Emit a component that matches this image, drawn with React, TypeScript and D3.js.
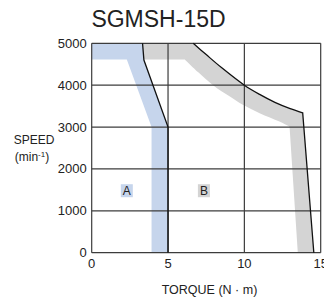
import * as d3 from 'd3';

// continuous duty zone (A): boundary line and the inner edge of its band
const contLineTorque = [3.33, 3.42, 5, 5];
const contLineSpeed = [5000, 4600, 3000, 0];
const contInnerTorque = [3.92, 3.92, 2.3, 0];
const contInnerSpeed = [0, 3000, 4616, 4616];

// intermittent duty zone (B): curved boundary, then the steep drop to zero speed
const intCurveTorque = [6.65, 7.5, 8.5, 10, 11, 12, 13, 13.82];
const intCurveSpeed = [5000, 4730, 4420, 4000, 3780, 3590, 3440, 3340];
const intDropTorque = [14.55];
const intDropSpeed = [0];
// inner edge of the B band (left to right), then its bottom end
const intInnerTorque = [6.1, 7.0, 7.95, 9, 9.9, 11, 12.3, 12.96];
const intInnerSpeed = [4616, 4300, 4000, 3740, 3530, 3330, 3130, 3010];
const intInnerBottomTorque = [13.5];
const intInnerBottomSpeed = [0];

const xTicks = [0, 5, 10, 15];
const yTicks = [0, 1000, 2000, 3000, 4000, 5000];

const zoneLabels = ['A', 'B'];
const zoneTorque = [2.3, 7.35];
const zoneSpeed = [1480, 1480];

const BLUE = '#c6d5ec';
const GRAY = '#d4d4d4';
const FONT = '"Liberation Sans", Arial, Helvetica, sans-serif';

type P = [number, number];
const pts = (xs: number[], ys: number[]) => xs.map((x, i) => [x, ys[i]] as P);

export default function App() {
  const width = 324;
  const height = 300;

  const x = d3.scaleLinear().domain([0, 15]).range([91.7, 320.7]);
  const y = d3.scaleLinear().domain([0, 5000]).range([252.7, 43.3]);

  const straight = d3.line<P>().x((d) => x(d[0])).y((d) => y(d[1]));
  const smooth = d3
    .line<P>()
    .x((d) => x(d[0]))
    .y((d) => y(d[1]))
    .curve(d3.curveCatmullRom.alpha(0.5));
  // continue a path (drop the leading M)
  const cont = (s: string | null) => (s ?? '').replace(/^M/, 'L');
  const lineTo = (ps: P[]) => ps.map((p) => `L${x(p[0])},${y(p[1])}`).join('');

  const contLine = pts(contLineTorque, contLineSpeed);
  const intCurve = pts(intCurveTorque, intCurveSpeed);
  const intDrop = pts(intDropTorque, intDropSpeed);
  const intInner = pts(intInnerTorque, intInnerSpeed);
  const intInnerBottom = pts(intInnerBottomTorque, intInnerBottomSpeed);

  const contBand =
    straight([[0, 5000], ...contLine, ...pts(contInnerTorque, contInnerSpeed)]) + 'Z';

  const intBoundary = smooth(intCurve) + lineTo(intDrop);
  const intBand =
    `M${x(contLineTorque[0])},${y(5000)}` +
    cont(smooth(intCurve)) +
    lineTo(intDrop) +
    lineTo(intInnerBottom) +
    cont(smooth([...intInner].reverse())) +
    lineTo([[contLineTorque[1], 4616]]) +
    'Z';

  const [x0, x1] = x.range();
  const [y0, y1] = y.range();

  return (
    <svg
      width={width}
      height={height}
      style={{ position: 'absolute', left: 0, top: 0, background: '#fff' }}
      fontFamily={FONT}
    >
      <text x={158.5} y={27} fontSize={23} textAnchor="middle" fill="#222">
        SGMSH-15D
      </text>

      <path d={contBand} fill={BLUE} />
      <path d={intBand} fill={GRAY} />

      {/* grid */}
      {xTicks.map((t) => (
        <line key={'gx' + t} x1={x(t)} x2={x(t)} y1={y1} y2={y0} stroke="#3c3c3c" strokeWidth={1.2} />
      ))}
      {yTicks.map((t) => (
        <line key={'gy' + t} x1={x0} x2={x1} y1={y(t)} y2={y(t)} stroke="#3c3c3c" strokeWidth={1.2} />
      ))}

      <path d={straight(contLine) ?? ''} fill="none" stroke="#111" strokeWidth={1.3} />
      <path d={intBoundary} fill="none" stroke="#111" strokeWidth={1.3} />

      {/* tick labels */}
      {yTicks.map((t) => (
        <text key={'ty' + t} x={x0 - 5} y={y(t)} dy="0.35em" fontSize={13} textAnchor="end" fill="#222">
          {t}
        </text>
      ))}
      {xTicks.map((t) => (
        <text key={'tx' + t} x={x(t)} y={y0 + 15.5} fontSize={13} textAnchor="middle" fill="#222">
          {t}
        </text>
      ))}

      {/* zone labels */}
      {zoneLabels.map((l, i) => (
        <g key={l}>
          <rect
            x={x(zoneTorque[i]) - 6}
            y={y(zoneSpeed[i]) - 6.5}
            width={12}
            height={13}
            fill={i === 0 ? BLUE : GRAY}
          />
          <text x={x(zoneTorque[i])} y={y(zoneSpeed[i])} dy="0.36em" fontSize={12} textAnchor="middle" fill="#222">
            {l}
          </text>
        </g>
      ))}

      {/* axis titles */}
      <text x={34} y={144} fontSize={12} textAnchor="middle" fill="#222">
        SPEED
      </text>
      <text x={32} y={161} fontSize={12} textAnchor="middle" fill="#222">
        (min<tspan fontSize={8} dy={-4}>-1</tspan>
        <tspan dy={4}>)</tspan>
      </text>
      <text x={209.5} y={294} fontSize={12.5} textAnchor="middle" fill="#222">
        TORQUE (N · m)
      </text>
    </svg>
  );
}
